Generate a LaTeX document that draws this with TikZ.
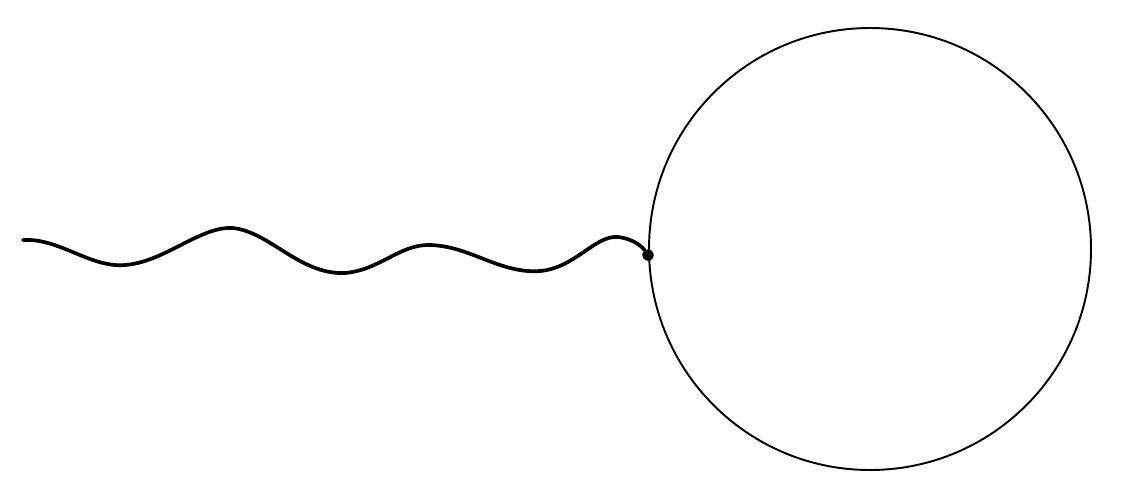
\documentclass[tikz,border=0pt]{standalone}
\begin{document}
\begin{tikzpicture}[x=0.02cm,y=-0.02cm]
\tikzstyle{wave line}=[line width=2.1pt,line cap=round,line join=round]
\tikzset{
	loop circle/.style={circle,draw,line width=1.1pt,minimum size=442*0.02cm,inner sep=0},
	junction dot/.style={circle,fill,inner sep=0,minimum size=6.5pt}
}
\useasboundingbox (0,0) rectangle (1124,495);
\node[loop circle] (loop) at (870,249) {};
\node[junction dot] (vertex) at (648,255) {};
\coordinate (start) at (23,240);
\draw[wave line] (start) .. controls (60,238) and (90,268) .. (125,265)
	.. controls (165,262) and (200,226) .. (233,228)
	.. controls (270,232) and (300,275) .. (345,273)
	.. controls (380,270) and (400,244) .. (430,245)
	.. controls (470,246) and (500,274) .. (540,271)
	.. controls (575,268) and (595,235) .. (618,237)
	.. controls (635,239) and (643,248) .. (vertex);
\end{tikzpicture}
\end{document}
